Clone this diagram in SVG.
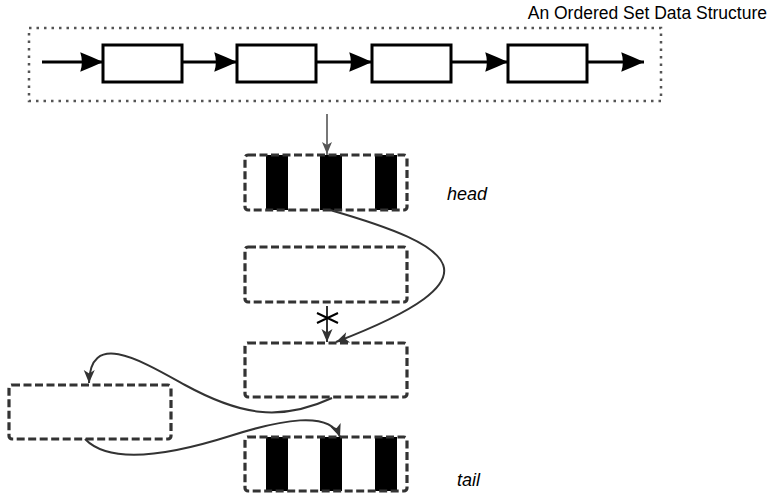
<svg xmlns="http://www.w3.org/2000/svg" width="771" height="493" viewBox="0 0 771 493">
  <style>
    .frame { fill: none; stroke: #555; stroke-width: 2.5; stroke-dasharray: 2.5 5; }
    .cell { fill: #fff; stroke: #000; stroke-width: 3; }
    .link { fill: none; stroke: #000; stroke-width: 3; }
    .block { fill: #fff; stroke: #333; stroke-width: 3.2; stroke-dasharray: 8 3.5; }
    .bar { fill: #000; }
    .curve { fill: none; stroke: #333; stroke-width: 2; }
    .label { font-family: "Liberation Sans", Arial, sans-serif; fill: #000; }
    .tag { font-family: "Liberation Sans", Arial, sans-serif; font-style: italic; font-size: 18px; fill: #000; }
  </style>
  <defs>
    <marker id="bigArrow" markerUnits="userSpaceOnUse" markerWidth="26" markerHeight="22" refX="21" refY="0" viewBox="-1 -10 24 20" orient="auto">
      <path d="M0,-9 Q10,-5 21,0 Q10,5 0,9 Q3,0 0,-9 Z" fill="#000"/>
    </marker>
    <marker id="thinArrow" markerUnits="userSpaceOnUse" markerWidth="16" markerHeight="14" refX="13" refY="0" viewBox="-1 -7 15 14" orient="auto">
      <path d="M0,-5.5 L13,0 L0,5.5 L3.5,0 Z" fill="#333"/>
    </marker>
    <marker id="grayArrow" markerUnits="userSpaceOnUse" markerWidth="16" markerHeight="14" refX="13" refY="0" viewBox="-1 -7 15 14" orient="auto">
      <path d="M0,-5 L12,0 L0,5 L3,0 Z" fill="#555"/>
    </marker>
  </defs>

  <rect width="771" height="493" fill="#fff"/>

  <!-- ordered set: linked list of four cells inside a dotted frame -->
  <g id="ordered-set">
    <rect class="frame" x="29" y="28" width="632" height="73"/>
    <text class="label" x="767" y="19" font-size="17.5" text-anchor="end">An Ordered Set Data Structure</text>
  </g>
  <g id="cell1"><rect class="cell" x="103" y="45" width="79" height="37"/></g>
  <g id="cell2"><rect class="cell" x="237" y="45" width="79" height="37"/></g>
  <g id="cell3"><rect class="cell" x="372" y="45" width="79" height="37"/></g>
  <g id="cell4"><rect class="cell" x="508" y="45" width="79" height="37"/></g>

  <!-- blocks -->
  <g id="head">
    <rect class="bar" x="266" y="155" width="22" height="55"/>
    <rect class="bar" x="320" y="155" width="22" height="55"/>
    <rect class="bar" x="375" y="155" width="22" height="55"/>
    <rect class="block" x="245" y="155" width="162" height="55" rx="3" style="fill:none"/>
    <text class="tag" x="447" y="200">head</text>
  </g>
  <g id="block2">
    <rect class="block" x="245" y="247" width="162" height="55" rx="3"/>
  </g>
  <g id="block3">
    <rect class="block" x="245" y="343" width="162" height="54" rx="3"/>
  </g>
  <g id="block4">
    <rect class="block" x="9" y="385" width="162" height="54" rx="3"/>
  </g>
  <g id="tail">
    <rect class="bar" x="266" y="437" width="22" height="54"/>
    <rect class="bar" x="320" y="437" width="22" height="54"/>
    <rect class="bar" x="375" y="437" width="22" height="54"/>
    <rect class="block" x="245" y="437" width="162" height="54" rx="3" style="fill:none"/>
    <text class="tag" x="457" y="486">tail</text>
  </g>

  <!-- connectors -->
  <g id="connectors">
    <line class="link" x1="42" y1="62" x2="103" y2="62" marker-end="url(#bigArrow)"/>
    <line class="link" x1="182" y1="62" x2="237" y2="62" marker-end="url(#bigArrow)"/>
    <line class="link" x1="316" y1="62" x2="372" y2="62" marker-end="url(#bigArrow)"/>
    <line class="link" x1="451" y1="62" x2="508" y2="62" marker-end="url(#bigArrow)"/>
    <line class="link" x1="587" y1="62" x2="644" y2="62" marker-end="url(#bigArrow)"/>

    <line x1="327" y1="114" x2="327" y2="155" stroke="#555" stroke-width="1.6" marker-end="url(#grayArrow)"/>

    <line x1="327" y1="306" x2="327" y2="342" stroke="#333" stroke-width="2" marker-end="url(#thinArrow)"/>
    <path d="M317,313 L338,323 M317,323 L338,313" stroke="#000" stroke-width="2" fill="none"/>

    <path class="curve" d="M330,210 C455,246 505,277 336,342" marker-end="url(#thinArrow)"/>
    <path class="curve" d="M332,398 C280,422 240,415 185,385 C140,360 90,330 89,383" marker-end="url(#thinArrow)"/>
    <path class="curve" d="M85,439 C110,465 170,455 230,436 C280,420 330,410 340,437" marker-end="url(#thinArrow)"/>
  </g>
</svg>
